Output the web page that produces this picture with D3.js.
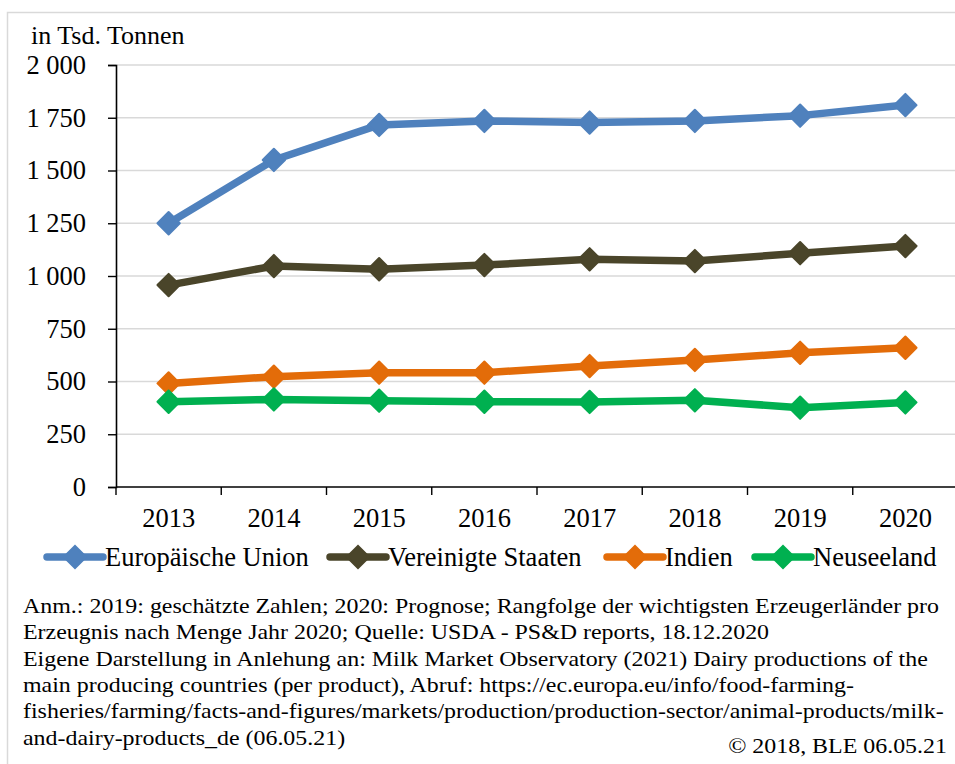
<!DOCTYPE html>
<html>
<head>
<meta charset="utf-8">
<script src="https://cdn.jsdelivr.net/npm/d3@7"></script>
<style>
  body { margin: 0; background: #fff; }
  svg { display: block; font-family: "Liberation Serif", "Times New Roman", serif; }
  svg text { font-family: "Liberation Serif", "Times New Roman", serif; }
</style>
</head>
<body>
<div id="chart"></div>
<script>
// values, in Tsd. Tonnen
var years = ["2013", "2014", "2015", "2016", "2017", "2018", "2019", "2020"];
var euValues = [1250, 1550, 1716, 1735, 1727, 1735, 1760, 1810];
var usValues = [957, 1047, 1032, 1052, 1079, 1071, 1108, 1142];
var inValues = [491, 523, 542, 542, 573, 602, 636, 660];
var nzValues = [404, 415, 409, 404, 403, 411, 376, 401];
var seriesNames = ["Europäische Union", "Vereinigte Staaten", "Indien", "Neuseeland"];
var seriesColors = ["#4f81bd", "#4a452a", "#e36c09", "#00b050"];
var yTicks = [0, 250, 500, 750, 1000, 1250, 1500, 1750, 2000];
var notes = [
  "Anm.: 2019: geschätzte Zahlen; 2020: Prognose; Rangfolge der wichtigsten Erzeugerländer pro",
  "Erzeugnis nach Menge Jahr 2020; Quelle: USDA - PS&D reports, 18.12.2020",
  "Eigene Darstellung in Anlehung an: Milk Market Observatory (2021) Dairy productions of the",
  "main producing countries (per product), Abruf: https://ec.europa.eu/info/food-farming-",
  "fisheries/farming/facts-and-figures/markets/production/production-sector/animal-products/milk-",
  "and-dairy-products_de (06.05.21)"
];
var copyright = "© 2018, BLE 06.05.21";

var allValues = [euValues, usValues, inValues, nzValues];

var width = 955, height = 764;
var margin = {top: 65, left: 116, right: -3, bottom: 277};
var fontSize = 26.5;

var svg = d3.select("#chart").append("svg")
    .attr("width", width)
    .attr("height", height);

// outer frame (right/bottom run off the picture)
svg.append("rect")
    .attr("x", 7.5).attr("y", 12.5)
    .attr("width", 960).attr("height", 770)
    .attr("fill", "none")
    .attr("stroke", "#d9d9d9")
    .attr("stroke-width", 1.5);

var x = d3.scaleBand().domain(years).range([margin.left, width - margin.right]);
var y = d3.scaleLinear().domain([0, 2000]).range([height - margin.bottom, margin.top]);

var fmt = function(d) { return d3.format(",")(d).replace(",", " "); };

// gridlines
svg.append("g")
  .selectAll("line")
  .data(yTicks.filter(function(d) { return d > 0; }))
  .enter().append("line")
    .attr("x1", margin.left).attr("x2", width)
    .attr("y1", function(d) { return y(d); })
    .attr("y2", function(d) { return y(d); })
    .attr("stroke", "#d9d9d9")
    .attr("stroke-width", 1.4);

// y axis
var yAxis = svg.append("g")
    .attr("transform", "translate(" + margin.left + ",0)")
    .call(d3.axisLeft(y).tickValues(yTicks).tickFormat(fmt).tickSize(8).tickPadding(22));
yAxis.attr("font-family", null).attr("font-size", null);
yAxis.select(".domain").attr("stroke", "#000").attr("stroke-width", 1.6);
yAxis.selectAll(".tick line").attr("stroke", "#000").attr("stroke-width", 1.4);
yAxis.selectAll("text")
    .attr("font-size", fontSize)
    .attr("fill", "#000");

// x axis, ticks between categories
var xAxis = svg.append("g")
    .attr("transform", "translate(0," + y(0) + ")")
    .call(d3.axisBottom(x).tickSize(0).tickPadding(21));
xAxis.attr("font-family", null).attr("font-size", null);
xAxis.select(".domain").remove();
xAxis.append("line")
    .attr("x1", margin.left).attr("x2", width)
    .attr("stroke", "#000").attr("stroke-width", 1.6);
xAxis.selectAll(".sep")
    .data(years.concat(["end"]))
    .enter().append("line")
    .attr("class", "sep")
    .attr("x1", function(d, i) { return margin.left + i * x.bandwidth(); })
    .attr("x2", function(d, i) { return margin.left + i * x.bandwidth(); })
    .attr("y1", 0).attr("y2", 8)
    .attr("stroke", "#000").attr("stroke-width", 1.4);
xAxis.selectAll(".tick text")
    .attr("font-size", fontSize)
    .attr("fill", "#000");

// axis title
svg.append("text")
    .attr("x", 31).attr("y", 44)
    .attr("font-size", 26)
    .text("in Tsd. Tonnen");

// lines and markers
var line = d3.line()
    .x(function(d, i) { return x(years[i]) + x.bandwidth() / 2; })
    .y(function(d) { return y(d); });

var diamond = d3.symbol().type(d3.symbolSquare).size(250);

allValues.forEach(function(vals, s) {
  var g = svg.append("g");
  g.append("path")
      .datum(vals)
      .attr("d", line)
      .attr("fill", "none")
      .attr("stroke", seriesColors[s])
      .attr("stroke-width", 7.5)
      .attr("stroke-linejoin", "round")
      .attr("stroke-linecap", "round");
  g.selectAll("path.mark")
      .data(vals)
      .enter().append("path")
      .attr("class", "mark")
      .attr("d", diamond)
      .attr("transform", function(d, i) {
        return "translate(" + (x(years[i]) + x.bandwidth() / 2) + "," + y(d) + ") rotate(45)";
      })
      .attr("fill", seriesColors[s])
      .attr("stroke", seriesColors[s])
      .attr("stroke-width", 2)
      .attr("stroke-linejoin", "round");
});

// legend
var legendX = [47, 330, 607, 755];
var legend = svg.append("g").attr("transform", "translate(0,557)");
seriesNames.forEach(function(name, s) {
  var item = legend.append("g").attr("transform", "translate(" + legendX[s] + ",0)");
  item.append("line")
      .attr("x1", 0).attr("x2", 56)
      .attr("stroke", seriesColors[s])
      .attr("stroke-width", 7.5)
      .attr("stroke-linecap", "round");
  item.append("path")
      .attr("d", diamond)
      .attr("transform", "translate(28,0) rotate(45)")
      .attr("fill", seriesColors[s])
      .attr("stroke", seriesColors[s])
      .attr("stroke-width", 2);
  item.append("text")
      .attr("x", 58).attr("dy", "0.35em")
      .attr("font-size", fontSize)
      .text(name);
});

// footnote, slightly widened like the source
var noteText = svg.append("g")
  .selectAll("text")
  .data(notes)
  .enter().append("text")
    .attr("x", 23)
    .attr("y", function(d, i) { return 613 + i * 26.3; })
    .attr("font-size", 21)
    .text(function(d) { return d; });

var stretch = 916 / noteText.node().getComputedTextLength();
noteText.each(function() {
  var len = this.getComputedTextLength();
  d3.select(this)
    .attr("textLength", len * stretch)
    .attr("lengthAdjust", "spacingAndGlyphs");
});

var copy = svg.append("text")
    .attr("x", 947).attr("y", 753)
    .attr("text-anchor", "end")
    .attr("font-size", 21)
    .text(copyright);
copy.attr("textLength", copy.node().getComputedTextLength() * stretch)
    .attr("lengthAdjust", "spacingAndGlyphs");
</script>
</body>
</html>
